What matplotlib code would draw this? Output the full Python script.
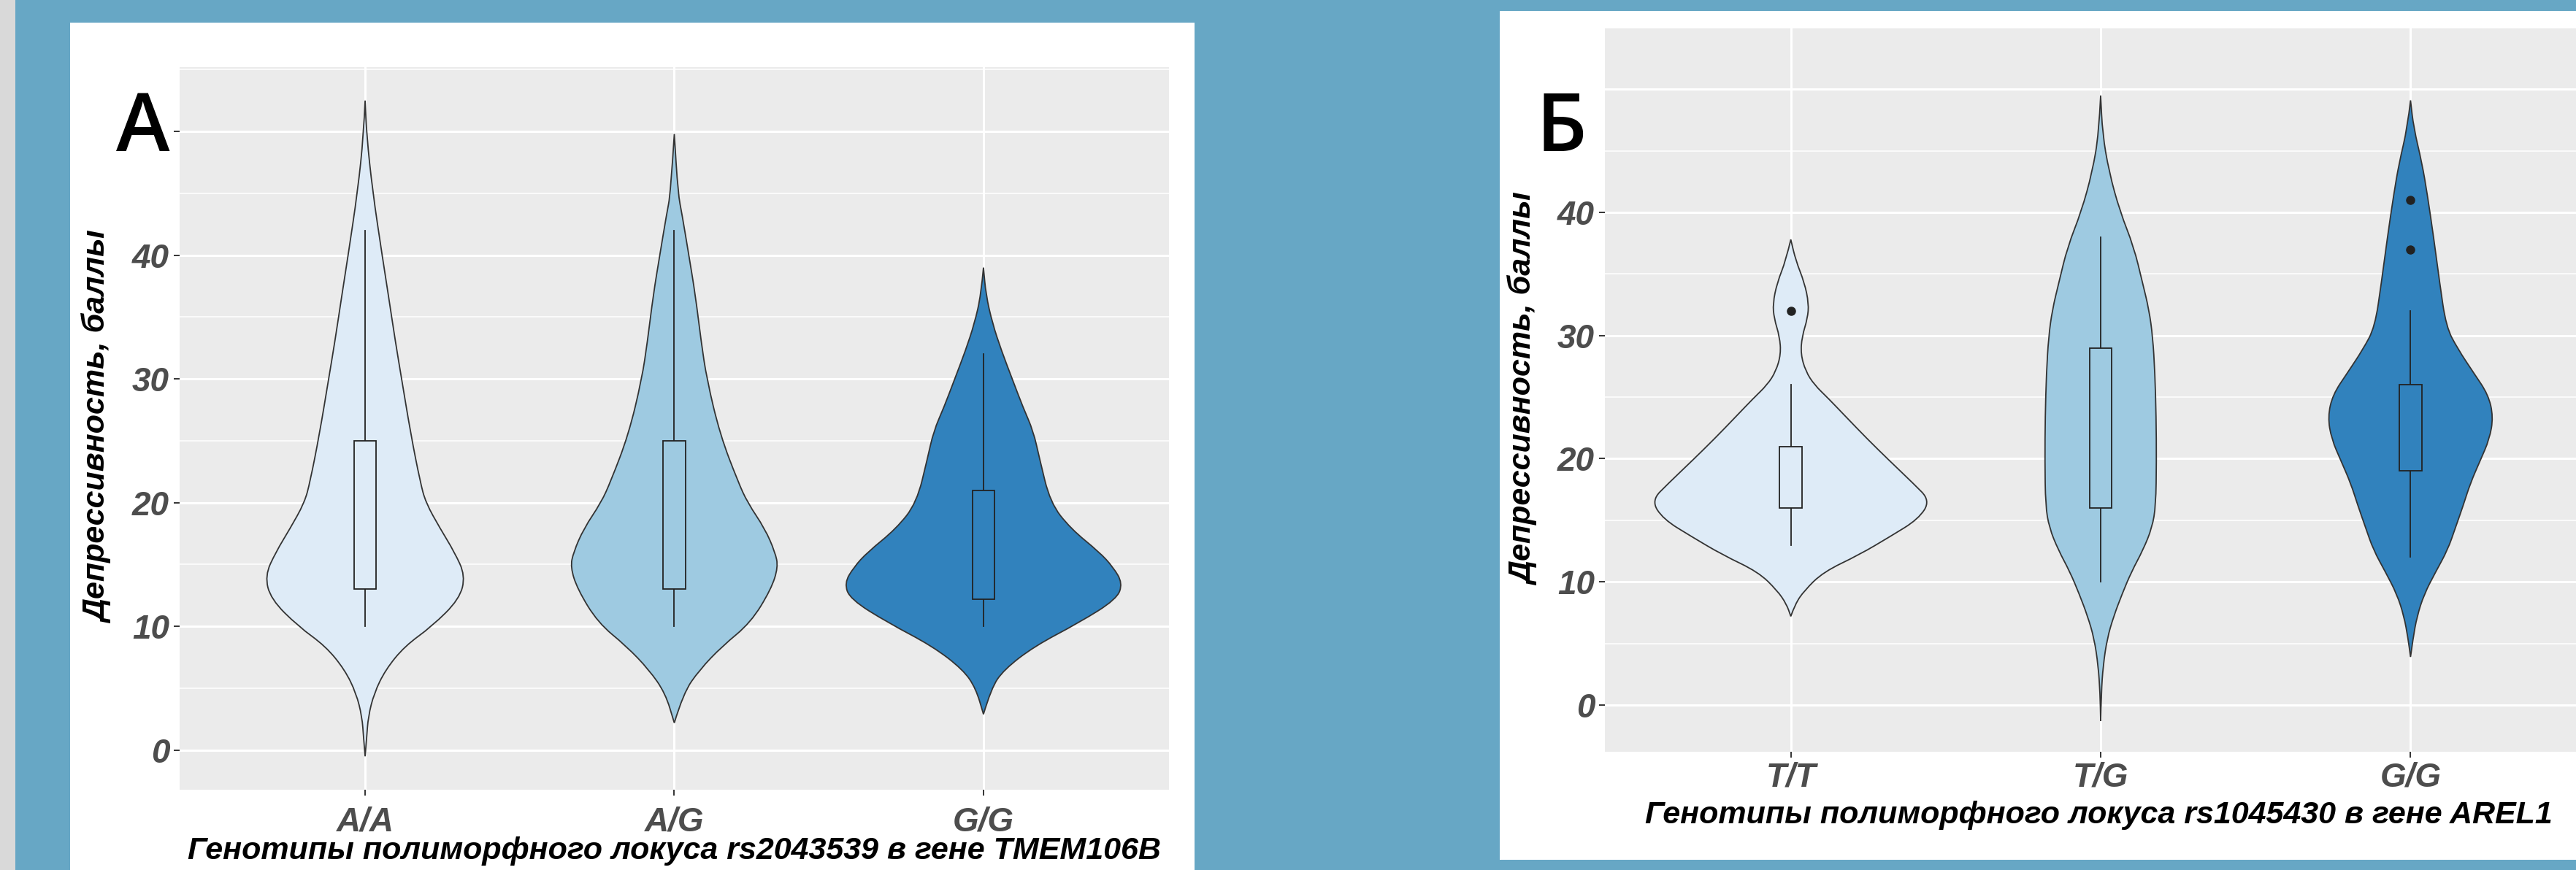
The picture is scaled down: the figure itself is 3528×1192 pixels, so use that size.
import matplotlib
matplotlib.use("Agg")
import matplotlib.pyplot as plt
from matplotlib.patches import Rectangle, PathPatch
from matplotlib.path import Path

plt.rcParams['font.family'] = ['Liberation Sans', 'DejaVu Sans']

colors = ['#DEEBF7', '#9ECAE1', '#3182BD']

# ---- panel A: rs2043539, TMEM106B ----
geno_a = ['A/A', 'A/G', 'G/G']
# violin outline: score value and half-width (category units)
aa_y = [-0.5, 1.0, 2.7, 4.6, 6.5, 8.4, 10.0, 12.2, 14.1, 16.0, 17.9, 20.0, 21.7, 25.5, 30.0, 33.0, 36.8, 40.0, 45.2, 49.7, 52.5]
aa_w = [0, 0.005, 0.010, 0.029, 0.066, 0.128, 0.216, 0.305, 0.324, 0.289, 0.243, 0.196, 0.178, 0.148, 0.118, 0.098, 0.075, 0.055, 0.024, 0.005, 0]
ag_y = [2.2, 4.6, 6.5, 8.4, 10.3, 13.0, 14.8, 16.0, 17.9, 20.0, 21.7, 25.5, 30.0, 33.0, 36.8, 40.0, 43.3, 45.0, 49.8]
ag_w = [0, 0.029, 0.082, 0.155, 0.247, 0.313, 0.336, 0.326, 0.293, 0.237, 0.206, 0.148, 0.105, 0.087, 0.068, 0.047, 0.025, 0.012, 0]
gga_y = [2.9, 5.0, 6.5, 8.4, 10.3, 12.2, 13.5, 14.8, 16.0, 17.9, 20.0, 23.6, 25.8, 27.7, 30.0, 32.3, 34.5, 36.8, 39.0]
gga_w = [0, 0.025, 0.066, 0.165, 0.309, 0.431, 0.45, 0.419, 0.375, 0.282, 0.216, 0.181, 0.161, 0.128, 0.093, 0.058, 0.029, 0.008, 0]
a_low = [10, 10, 10]
a_q1 = [13, 13, 12.2]
a_med = [17, 17.5, 15.5]
a_q3 = [25, 25, 21]
a_high = [42, 42, 32]
a_fliers = [[], [], []]

# ---- panel B: rs1045430, AREL1 ----
geno_b = ['T/T', 'T/G', 'G/G']
tt_y = [7.2, 8.2, 9.3, 10.8, 12.2, 13.7, 15.1, 16.6, 18.0, 19.8, 21.6, 23.4, 24.9, 26.0, 27.1, 28.5, 29.9, 31.4, 32.6, 34.3, 36.1, 37.8]
tt_w = [0, 0.014, 0.044, 0.105, 0.221, 0.322, 0.412, 0.45, 0.395, 0.320, 0.247, 0.178, 0.121, 0.076, 0.048, 0.032, 0.036, 0.054, 0.058, 0.044, 0.016, 0]
tg_y = [-1.3, 1.0, 3.2, 5.4, 7.2, 9.0, 10.8, 12.6, 14.4, 16.2, 19.8, 23.4, 27.0, 29.9, 32.1, 34.3, 37.2, 40.1, 43.3, 46.4, 49.5]
tg_w = [0, 0.002, 0.008, 0.021, 0.042, 0.069, 0.099, 0.137, 0.166, 0.178, 0.180, 0.179, 0.175, 0.168, 0.156, 0.135, 0.107, 0.062, 0.027, 0.006, 0]
ggb_y = [3.9, 5.4, 7.2, 9.0, 10.8, 12.6, 14.4, 16.2, 18.0, 19.8, 21.6, 23.4, 25.2, 27.0, 28.9, 30.7, 34.3, 37.9, 41.5, 44.0, 46.9, 49.1]
ggb_w = [0, 0.008, 0.021, 0.044, 0.081, 0.120, 0.145, 0.170, 0.193, 0.224, 0.255, 0.267, 0.251, 0.203, 0.153, 0.115, 0.094, 0.075, 0.054, 0.037, 0.010, 0]
b_low = [13, 10, 12]
b_q1 = [16, 16, 19]
b_med = [18, 23, 24]
b_q3 = [21, 29, 26]
b_high = [26, 38, 32]
b_fliers = [[32], [], [37, 41]]

W, H = 3528, 1192


def smooth(pts):
    v = [pts[0]]
    c = [Path.MOVETO]
    for i in range(1, len(pts) - 1):
        mid = ((pts[i][0] + pts[i + 1][0]) / 2, (pts[i][1] + pts[i + 1][1]) / 2)
        v += [pts[i], mid]
        c += [Path.CURVE3, Path.CURVE3]
    v.append(pts[-1])
    c.append(Path.LINETO)
    return v, c


def violin(ax, xc, ys, ws, color):
    right = [(xc + w, y) for y, w in zip(ys, ws)]
    left = [(xc - w, y) for y, w in zip(ys, ws)][::-1]
    v1, c1 = smooth(right)
    v2, c2 = smooth(left)
    c2[0] = Path.LINETO
    path = Path(v1 + v2 + [v1[0]], c1 + c2 + [Path.CLOSEPOLY])
    ax.add_patch(PathPatch(path, facecolor=color, edgecolor='#333333', lw=1.3, zorder=2))


def panel(rect, labels, profiles, low, q1, med, q3, high, fliers, ylim):
    ax = fig.add_axes(rect)
    ax.set_zorder(2)
    ax.set_facecolor('#EBEBEB')
    for s in ax.spines.values():
        s.set_visible(False)
    for i, (ys, ws) in enumerate(profiles):
        violin(ax, i + 1, ys, ws, colors[i])
    stats = []
    for i in range(3):
        stats.append({'whislo': low[i], 'q1': q1[i], 'med': med[i], 'q3': q3[i],
                      'whishi': high[i], 'fliers': fliers[i]})
    bp = ax.bxp(stats, positions=[1, 2, 3], widths=0.072, patch_artist=True,
                showcaps=False, manage_ticks=False,
                medianprops=dict(color='#222222', lw=2.6),
                whiskerprops=dict(color='#222222', lw=1.3),
                flierprops=dict(marker='o', markerfacecolor='#222222',
                                markeredgecolor='#222222', markersize=8))
    for i, b in enumerate(bp['boxes']):
        b.set_facecolor(colors[i])
        b.set_edgecolor('#222222')
        b.set_linewidth(1.3)
        b.set_zorder(3)
    ax.set_xlim(0.4, 3.6)
    ax.set_ylim(*ylim)
    ax.set_xticks([1, 2, 3])
    ax.set_xticklabels(labels)
    ax.set_yticks([0, 10, 20, 30, 40, 50])
    ax.set_yticklabels(['0', '10', '20', '30', '40', ''])
    ax.set_yticks([5, 15, 25, 35, 45, 55], minor=True)
    ax.grid(True, which='major', color='white', lw=2.2)
    ax.grid(True, which='minor', axis='y', color='white', lw=1.1)
    ax.set_axisbelow(True)
    ax.tick_params(which='major', length=6, width=1.4, color='#333333',
                   labelsize=33, labelcolor='#4D4D4D', pad=4)
    ax.tick_params(which='minor', length=0)
    for t in ax.get_xticklabels() + ax.get_yticklabels():
        t.set_fontweight('bold')
        t.set_fontstyle('italic')
    return ax


fig = plt.figure(figsize=(W / 100, H / 100), dpi=100)
fig.patch.set_facecolor('#67A7C5')

fig.patches.append(Rectangle((0, 0), 21 / W, 1, transform=fig.transFigure,
                             facecolor='#D9D9D9', edgecolor='none', zorder=-5))
fig.patches.append(Rectangle((96 / W, 0), (1636 - 96) / W, (H - 31) / H,
                             transform=fig.transFigure, facecolor='white',
                             edgecolor='none', zorder=-5))
fig.patches.append(Rectangle((2054 / W, (H - 1178) / H), (W - 2054) / W, (1178 - 15) / H,
                             transform=fig.transFigure, facecolor='white',
                             edgecolor='none', zorder=-5))

ax1 = panel([246 / W, (H - 1082) / H, 1355 / W, 990 / H], geno_a,
            [(aa_y, aa_w), (ag_y, ag_w), (gga_y, gga_w)],
            a_low, a_q1, a_med, a_q3, a_high, a_fliers, (-3.2, 55.2))
ax1.tick_params(axis='x', pad=10)

ax2 = panel([2198 / W, (H - 1030) / H, 1358 / W, 992 / H], geno_b,
            [(tt_y, tt_w), (tg_y, tg_w), (ggb_y, ggb_w)],
            b_low, b_q1, b_med, b_q3, b_high, b_fliers, (-3.8, 52.05))
ax2.tick_params(axis='x', pad=4)
ax2.yaxis.get_major_ticks()[-1].tick1line.set_visible(False)

ylab = 'Депрессивность, баллы'
fig.text(135 / W, (H - 586) / H, ylab, rotation=90, ha='center', va='center',
         fontsize=31, fontweight='bold', fontstyle='italic', color='black', zorder=5)
fig.text(2088 / W, (H - 534) / H, ylab, rotation=90, ha='center', va='center',
         fontsize=31, fontweight='bold', fontstyle='italic', color='black', zorder=5)

fig.text(923 / W, (H - 1177) / H,
         'Генотипы полиморфного локуса rs2043539 в гене TMEM106B',
         ha='center', va='baseline', fontsize=31, fontweight='bold',
         fontstyle='italic', color='black', zorder=5)
fig.text(2874 / W, (H - 1128) / H,
         'Генотипы полиморфного локуса rs1045430 в гене AREL1',
         ha='center', va='baseline', fontsize=31, fontweight='bold',
         fontstyle='italic', color='black', zorder=5)

fig.text(196 / W, (H - 207) / H, 'А', ha='center', va='baseline', zorder=5,
         fontsize=80, fontweight='semibold', family=['Open Sans', 'DejaVu Sans'], color='black')
fig.text(2138 / W, (H - 207) / H, 'Б', ha='center', va='baseline', zorder=5,
         fontsize=80, fontweight='semibold', family=['Open Sans', 'DejaVu Sans'], color='black')

fig.savefig('out.png', dpi=100, facecolor=fig.get_facecolor())
